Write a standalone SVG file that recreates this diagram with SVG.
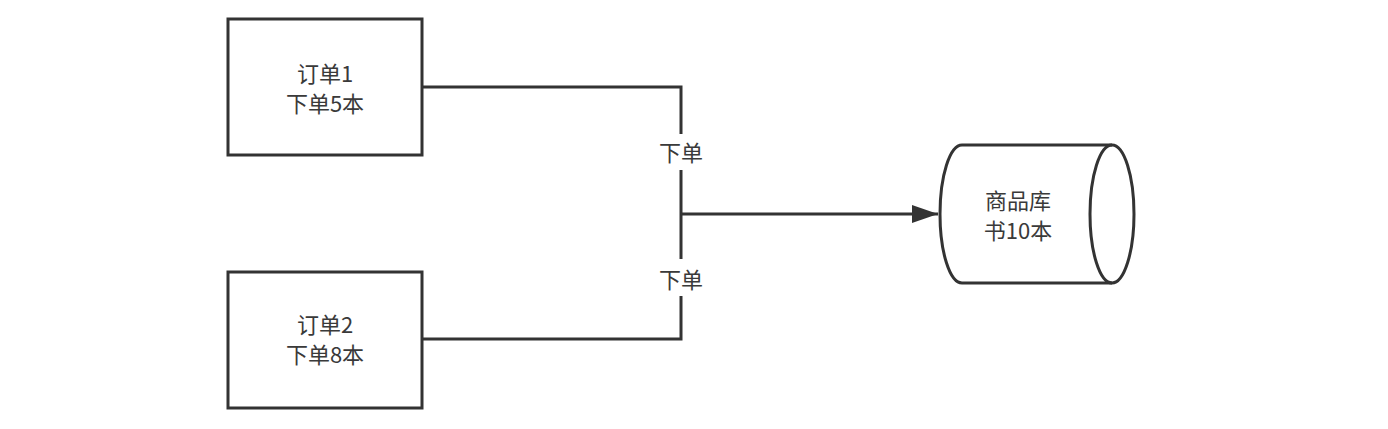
<svg xmlns="http://www.w3.org/2000/svg" width="1388" height="429" viewBox="0 0 1388 429">
<defs>
<style>
.shape{fill:#fff;stroke:#333;stroke-width:3}
.edge{fill:none;stroke:#333;stroke-width:3}
text{font-family:"Microsoft YaHei","Noto Sans CJK SC",sans-serif;font-size:22px;fill:#3a3a3a;text-anchor:middle}
.lbl{fill:#fff;stroke:none}
</style>
<marker id="ah" markerUnits="userSpaceOnUse" markerWidth="28" markerHeight="20" refX="26" refY="10" orient="auto" viewBox="0 0 28 20">
<path d="M0,1 L26,10 L0,19 Z" fill="#333"/>
</marker>
</defs>
<g id="connectors">
<path class="edge" d="M422,87 H681 V214"/>
<path class="edge" d="M422,339 H681 V214"/>
<path class="edge" d="M681,214 H938" marker-end="url(#ah)"/>
<rect class="lbl" x="655" y="134" width="52" height="36"/>
<text x="681" y="161">下单</text>
<rect class="lbl" x="655" y="259" width="52" height="37"/>
<text x="681" y="288">下单</text>
</g>
<g id="order1">
<rect class="shape" x="228" y="19" width="194" height="136"/>
<text x="325" y="82">订单1</text>
<text x="325" y="112">下单5本</text>
</g>
<g id="order2">
<rect class="shape" x="228" y="272" width="194" height="136"/>
<text x="325" y="333">订单2</text>
<text x="325" y="363">下单8本</text>
</g>
<g id="store">
<path class="shape" d="M962,145 H1112 A22,69 0 0 1 1112,283 H962 A22,69 0 0 1 962,145 Z"/>
<path class="edge" d="M1112,145 A22,69 0 0 0 1112,283"/>
<text x="1018" y="209">商品库</text>
<text x="1018" y="239">书10本</text>
</g>
</svg>
